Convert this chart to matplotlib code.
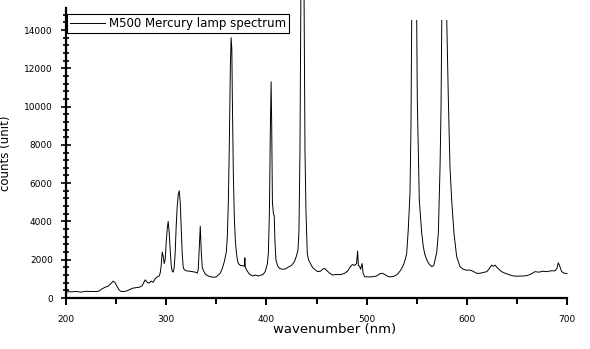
import numpy as np
import matplotlib
matplotlib.use("Agg")
import matplotlib.pyplot as plt
from matplotlib.ticker import MultipleLocator

# wavelength (nm) and counts; nan = saturated top of a line
wavelength = [200, 205, 210, 215, 220, 225, 230, 233, 236, 239, 242, 245, 247, 249, 251, 253, 255,
              258, 261, 264, 267, 270, 273, 276, 279, 281, 283, 285, 287, 289, 291, 293, 294, 295,
              296, 297, 298, 299, 300, 301, 302, 303, 304, 305, 306, 307, 308, 309, 310, 311, 312,
              313, 314, 315, 316, 317, 318, 320, 323, 326, 329, 331, 332, 333, 334, 335, 336, 337,
              339, 342, 345, 348, 350, 352, 354, 356, 358, 360, 361, 362, 363, 364, 364.8, 365.5,
              366, 367, 368, 369, 370, 371, 372, 374, 376, 378, 378.5, 379, 381, 383, 386, 389, 392,
              395, 397, 399, 401, 402, 403, 404, 404.7, 405.3, 406, 407, 407.8, 408.5, 409.5, 411,
              413, 416, 419, 422, 425, 428, 430, 431.5, 432.5, 433.5, 434.5, 436, 437.5, 438.5,
              439.5, 440.8, 442, 444, 446, 448, 451, 454, 456, 458, 460, 463, 466, 470, 474, 478,
              481, 484, 486, 488, 490, 491, 491.8, 493, 494, 495.5, 496.5, 498, 502, 506, 510, 513,
              516, 519, 522, 525, 528, 531, 534, 537, 539, 540, 541.5, 543.3, 544.3, 545, 547.5,
              550, 550.6, 552.6, 555, 556.6, 558, 560, 562, 565, 567, 568.3, 570, 571.6, 573.3,
              574.3, 575, 577.5, 580, 581.6, 583.2, 584.9, 587.2, 589.9, 593.2, 596.5, 600, 603.2,
              606, 609.9, 613.2, 616, 619.9, 622, 624.8, 626.5, 628.1, 631, 634.8, 638, 642, 646.4,
              651, 656.4, 660, 664, 668, 672, 676, 679.7, 684, 688, 690, 691.3, 692.5, 694.7, 697,
              699, 700]
counts = [330, 320, 340, 310, 350, 340, 340, 360, 480, 560, 620, 760, 880, 800, 600, 420, 340,
          340, 380, 450, 520, 540, 560, 640, 950, 820, 780, 880, 820, 1000, 1100, 1150, 1300, 1700,
          2400, 2200, 1800, 2000, 2900, 3600, 4000, 3400, 2500, 1700, 1400, 1350, 1600, 2400, 3800,
          4800, 5400, 5600, 5000, 3600, 2300, 1600, 1480, 1420, 1400, 1380, 1350, 1300, 1500, 2600,
          3750, 2400, 1600, 1450, 1250, 1150, 1100, 1080, 1110, 1200, 1300, 1550, 1900, 2400, 3200,
          5000, 8000, 12000, 13600, 13000, 10500, 6500, 4200, 3000, 2400, 2000, 1800, 1700, 1700,
          1650, 2100, 1600, 1400, 1250, 1150, 1200, 1150, 1200, 1250, 1400, 1800, 2400, 4500, 9000,
          11300, 9000, 5000, 4400, 4300, 3000, 2000, 1700, 1550, 1500, 1520, 1620, 1700, 1900, 2200,
          2500, 3500, 7730, 16500, np.nan, 16500, 7730, 4500, 2330, 2000, 1800, 1600, 1500,
          1380, 1400, 1500, 1550, 1450, 1300, 1200, 1230, 1220, 1290, 1400, 1650, 1750, 1700, 1800,
          2450, 1700, 1650, 1500, 1800, 1300, 1110, 1100, 1110, 1150, 1260, 1290, 1200, 1110, 1110,
          1150, 1250, 1450, 1750, 2100, 2330, 3500, 5480, 9000, 14500, np.nan, 14500, 10340, 5120,
          3390, 2680, 2300, 2000, 1800, 1640, 1700, 1985, 2400, 3390, 6860, 10000, 14500, np.nan,
          14500, 10340, 6860, 5120, 3380, 2160, 1640, 1500, 1450, 1460, 1400, 1290, 1290, 1330,
          1375, 1500, 1720, 1650, 1720, 1550, 1375, 1300, 1220, 1150, 1140, 1150, 1170, 1250, 1375,
          1350, 1400, 1375, 1420, 1420, 1550, 1840, 1700, 1375, 1300, 1290, 1280]

fig = plt.figure(figsize=(5.9, 3.49), dpi=100)
ax = fig.add_axes([66 / 590, 1 - 298 / 349, 501 / 590, 290 / 349])

ax.plot(wavelength, counts, color="black", lw=0.7, clip_on=False,
        label="M500 Mercury lamp spectrum")

ax.set_xlim(200, 700)
ax.set_ylim(0, 15150)
ax.spines["top"].set_visible(False)
ax.spines["right"].set_visible(False)
ax.spines["left"].set_linewidth(1.6)
ax.spines["bottom"].set_linewidth(1.6)

ax.xaxis.set_major_locator(MultipleLocator(100))
ax.xaxis.set_minor_locator(MultipleLocator(50))
ax.yaxis.set_major_locator(MultipleLocator(2000))
ax.yaxis.set_minor_locator(MultipleLocator(400))
ax.tick_params(axis="x", which="major", direction="out", length=5, width=1.4, labelsize=6.5, pad=7)
ax.tick_params(axis="x", which="minor", direction="out", length=4, width=1.4)
ax.tick_params(axis="y", which="major", direction="inout", length=7, width=1.2, labelsize=6.5, pad=6)
ax.tick_params(axis="y", which="minor", direction="inout", length=5, width=1.2)

ax.set_xlabel("wavenumber (nm)", fontsize=9.5)
ax.xaxis.set_label_coords(0.537, -0.085)
ax.set_ylabel("counts (unit)", fontsize=8.5)
ax.yaxis.set_label_coords(-0.108, 0.5)

leg = ax.legend(loc="upper left", bbox_to_anchor=(0.002, 0.979), borderaxespad=0,
                fontsize=8.5, fancybox=False, edgecolor="black", framealpha=1,
                handlelength=3.0, handletextpad=0.3, borderpad=0.25)
leg.get_frame().set_linewidth(0.8)

fig.savefig("out.png", dpi=100)
